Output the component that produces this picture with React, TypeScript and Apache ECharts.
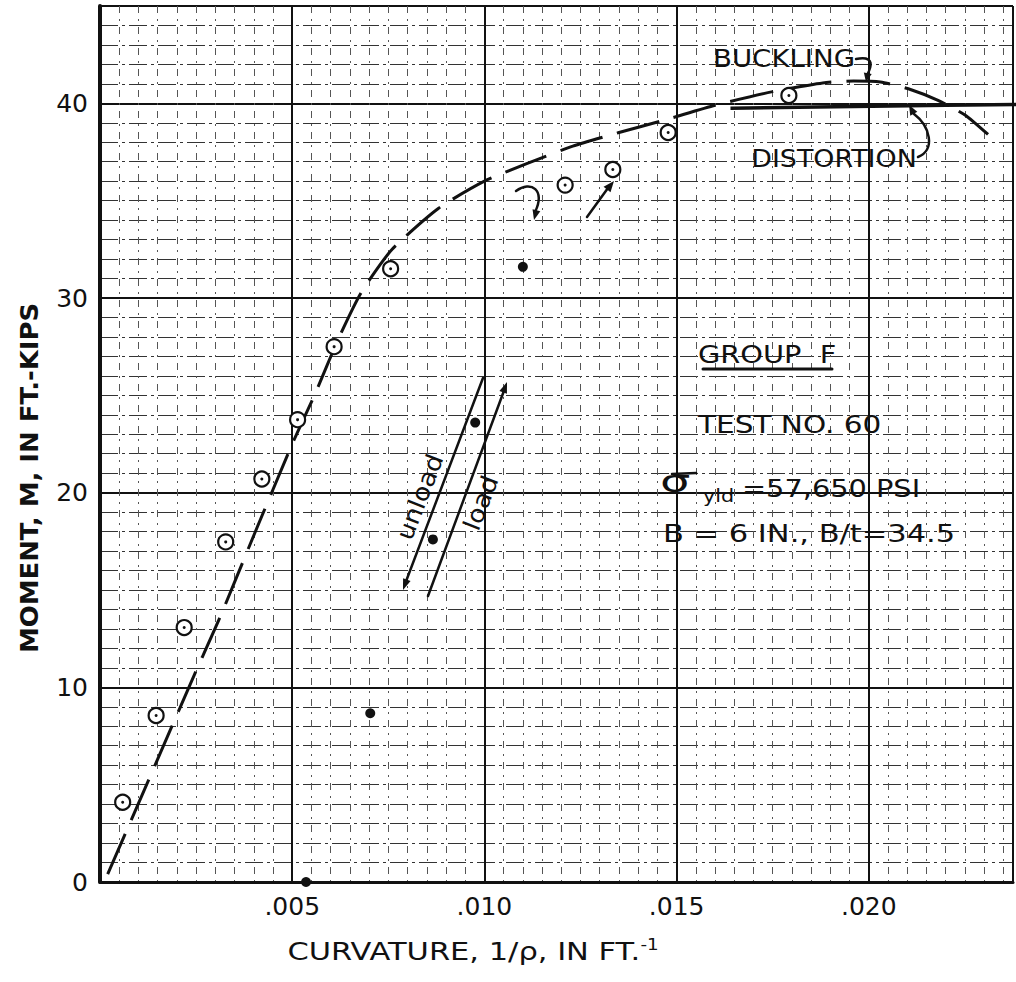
import React, { useEffect, useRef } from "react";
import * as echarts from "echarts";

// ---- data ----
const X_MAX = 0.02375;
const Y_MAX = 45;
const xMajorLabels = ["", ".005", ".010", ".015", ".020"];
const yMajorLabels = ["0", "10", "20", "30", "40"];

// open circles (loading)
const testPoints: [number, number][] = [
  [0.00059, 4.1], [0.00146, 8.55], [0.00219, 13.07], [0.00327, 17.47],
  [0.00421, 20.7], [0.00514, 23.75], [0.00609, 27.5], [0.00756, 31.5],
  [0.0121, 35.8], [0.01334, 36.6], [0.01478, 38.5], [0.01792, 40.4],
];
// filled dots
const unloadPoints: [number, number][] = [
  [0.00536, 0], [0.00703, 8.67], [0.00866, 17.6], [0.00976, 23.6], [0.011, 31.6],
];
// dashed predicted (buckling) curve
const bucklingCurve: [number, number][] = [
  [0.0002, 0.4], [0.0013, 5.4], [0.0024, 10.4], [0.0031, 13.5], [0.004, 17.8],
  [0.005, 22.5], [0.0056, 25.1], [0.0062, 27.9], [0.0068, 30.3], [0.0076, 32.5],
  [0.0088, 34.6], [0.01, 36.0], [0.0111, 36.9], [0.0123, 37.8], [0.0135, 38.5],
  [0.0147, 39.15], [0.016, 39.9], [0.0175, 40.6], [0.0188, 41.05], [0.0196, 41.15],
  [0.0203, 41.1], [0.0211, 40.7], [0.0218, 40.15], [0.0225, 39.4], [0.0231, 38.4],
];
// distortion limit line
const distortionLine: [number, number][] = [
  [0.0164, 39.75], [0.022, 39.9], [0.024, 39.95],
];

const FONT = '"DejaVu Sans", sans-serif';
const INK = "#111";

function text(t: string, x: number, y: number, o: any = {}) {
  return {
    type: "text",
    x,
    y,
    z: 100,
    scaleX: o.scaleX ?? 1.22,
    rotation: o.rotation ?? 0,
    style: {
      text: t,
      fill: INK,
      fontSize: o.fontSize ?? 24,
      fontFamily: FONT,
      fontWeight: o.fontWeight ?? "normal",
      align: o.align ?? "left",
      textAlign: o.align ?? "left",
      verticalAlign: "middle",
      textVerticalAlign: "middle",
      rich: o.rich,
    },
  };
}

function seg(x1: number, y1: number, x2: number, y2: number, w = 2.5) {
  return { type: "line", z: 100, shape: { x1, y1, x2, y2 }, style: { stroke: INK, lineWidth: w, lineCap: "round" } };
}

function curve(x1: number, y1: number, cpx1: number, cpy1: number, cpx2: number, cpy2: number, x2: number, y2: number, w = 2.5) {
  return {
    type: "bezierCurve",
    z: 100,
    shape: { x1, y1, cpx1, cpy1, cpx2, cpy2, x2, y2 },
    style: { stroke: INK, lineWidth: w, fill: null, lineCap: "round" },
  };
}

function head(tx: number, ty: number, fx: number, fy: number, len = 10, half = 4) {
  const dx = tx - fx, dy = ty - fy;
  const L = Math.hypot(dx, dy);
  const ux = dx / L, uy = dy / L;
  const bx = tx - ux * len, by = ty - uy * len;
  return {
    type: "polygon",
    z: 100,
    shape: { points: [[tx, ty], [bx - uy * half, by + ux * half], [bx + uy * half, by - ux * half]] },
    style: { fill: INK },
  };
}

function majorFmt(step: number, labels: string[]) {
  return (v: number) => {
    const i = Math.round(v / step);
    if (Math.abs(v - i * step) > step * 1e-6 || i < 0 || i >= labels.length) return "";
    return labels[i];
  };
}

export default function App() {
  const ref = useRef<HTMLDivElement>(null);

  useEffect(() => {
    document.body.style.margin = "0";
    const chart = echarts.init(ref.current!, null, { renderer: "svg" });

    const minorV = { show: true, lineStyle: { color: "#555", width: 1, type: [7, 6, 2, 6] } };
    const minorH = { show: true, lineStyle: { color: "#333", width: 1, type: [18, 4, 3, 4] } };
    const majorLine = { show: true, lineStyle: { color: INK, width: 2, type: "solid" } };
    const labelStyle = { color: INK, fontSize: 25, fontFamily: FONT };

    chart.setOption({
      animation: false,
      backgroundColor: "#fff",
      grid: { left: 100, top: 6, width: 921, height: 876, containLabel: false },
      xAxis: [
        {
          type: "value", min: 0, max: X_MAX, interval: 0.0005, position: "top",
          axisLine: { show: false }, axisTick: { show: false }, axisLabel: { show: false },
          splitLine: minorV,
        },
        {
          type: "value", min: 0, max: X_MAX, interval: 0.005, position: "bottom",
          axisLine: { show: true, onZero: false, lineStyle: { color: INK, width: 3 } },
          axisTick: { show: false },
          axisLabel: { ...labelStyle, margin: 12, formatter: majorFmt(0.005, xMajorLabels) },
          splitLine: majorLine,
        },
      ],
      yAxis: [
        {
          type: "value", min: 0, max: Y_MAX, interval: 1, position: "right",
          axisLine: { show: false }, axisTick: { show: false }, axisLabel: { show: false },
          splitLine: minorH,
        },
        {
          type: "value", min: 0, max: Y_MAX, interval: 10, position: "left",
          axisLine: { show: true, onZero: false, lineStyle: { color: INK, width: 4 } },
          axisTick: { show: false },
          axisLabel: { ...labelStyle, margin: 12, formatter: majorFmt(10, yMajorLabels) },
          splitLine: majorLine,
        },
      ],
      series: [
        {
          type: "line", xAxisIndex: 1, yAxisIndex: 1, data: bucklingCurve,
          showSymbol: false, smooth: 0.2, z: 5,
          lineStyle: { color: INK, width: 3, type: [44, 15] },
        },
        {
          type: "line", xAxisIndex: 1, yAxisIndex: 1, data: distortionLine,
          showSymbol: false, z: 5,
          lineStyle: { color: INK, width: 3.5, type: "solid" },
        },
        {
          type: "scatter", xAxisIndex: 1, yAxisIndex: 1, data: testPoints,
          symbol: "circle", symbolSize: 15, z: 6,
          itemStyle: { color: "#fff", borderColor: INK, borderWidth: 2.2, opacity: 1 },
        },
        {
          type: "scatter", xAxisIndex: 1, yAxisIndex: 1, data: testPoints,
          symbol: "circle", symbolSize: 3, z: 7,
          itemStyle: { color: INK, opacity: 1 },
        },
        {
          type: "scatter", xAxisIndex: 1, yAxisIndex: 1, data: unloadPoints,
          symbol: "circle", symbolSize: 10, z: 7,
          itemStyle: { color: INK, opacity: 1 },
        },
      ],
      graphic: [
        // axis titles
        text("CURVATURE, 1/ρ, IN FT.{s|-1}", 473, 951, {
          align: "center", fontSize: 25, scaleX: 1.22,
          rich: { s: { fontSize: 15, fontFamily: FONT, fill: INK, verticalAlign: "top", padding: [0, 0, 12, 0] } },
        }),
        text("MOMENT, M, IN FT.-KIPS", 30, 478, {
          align: "center", fontSize: 24, fontWeight: "bold", scaleX: 1.08, rotation: Math.PI / 2,
        }),
        // annotations
        text("BUCKLING", 784, 59, { align: "center", scaleX: 1.15 }),
        curve(856, 59, 876, 55, 871, 68, 867, 75),
        head(866, 82, 868, 72, 9, 4),
        text("DISTORTION", 834, 159, { align: "center", scaleX: 1.12 }),
        curve(918, 157, 936, 150, 930, 126, 914, 114),
        head(909, 105, 915, 116, 10, 4),
        text("GROUP  F", 698, 354, { scaleX: 1.2 }),
        seg(703, 369, 832, 369, 3),
        text("TEST NO. 60", 698, 425, { scaleX: 1.23 }),
        text("σ", 660, 482, { fontSize: 30, scaleX: 1.6 }),
        seg(672, 474, 696, 473, 2.5),
        text("yld", 703, 496, { fontSize: 18, scaleX: 1.15 }),
        text("=57,650 PSI", 742, 488.5, { scaleX: 1.2 }),
        text("B = 6 IN., B/t=34.5", 663, 533.5, { scaleX: 1.27 }),
        // load / unload arrows
        seg(483, 378, 405, 584, 2.5),
        head(403, 590, 410, 571, 11, 4),
        seg(428, 596, 505, 388, 2.5),
        head(507, 382, 500, 401, 11, 4),
        text("unload", 420, 497, { align: "center", fontSize: 24, scaleX: 1.1, rotation: 1.2 }),
        text("load", 481, 503, { align: "center", fontSize: 24, scaleX: 1.1, rotation: 1.2 }),
        // small arrows near the peak
        curve(516, 191, 531, 180, 546, 190, 535, 212),
        head(534, 220, 537, 208, 10, 4),
        seg(587, 217, 608, 188, 2.5),
        head(614, 181, 605, 192, 11, 4.5),
      ],
    });

    return () => chart.dispose();
  }, []);

  return <div ref={ref} style={{ width: 1016, height: 982 }} />;
}
